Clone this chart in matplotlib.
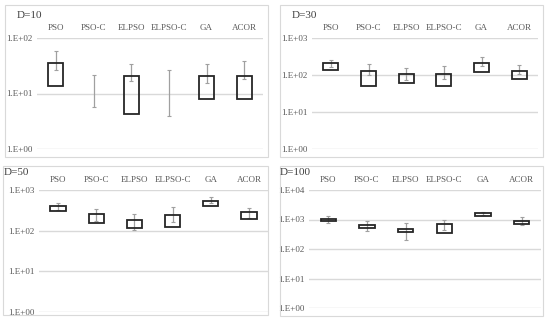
import numpy as np
import matplotlib.pyplot as plt
from matplotlib.patches import Rectangle

plt.rcParams['font.family'] = ['Liberation Serif', 'DejaVu Serif']

algorithms = ["PSO", "PSO-C", "ELPSO", "ELPSO-C", "GA", "ACOR"]
titles = ["D=10", "D=30", "D=50", "D=100"]

# box bottom / top and whisker low / high, per panel
box_low = [
    [13.4, np.nan, 4.2, np.nan, 8.0, 8.0],
    [133, 52, 59, 49, 122, 79],
    [299, 151, 119, 123, 404, 197],
    [895, 506, 380, 352, 1288, 692],
]
box_high = [
    [35.3, np.nan, 20.3, np.nan, 20.3, 20.9],
    [206, 128, 104, 104, 215, 130],
    [396, 252, 179, 238, 547, 282],
    [1074, 673, 468, 728, 1626, 919],
]
whisk_low = [
    [26.4, 5.6, 16.9, 4.0, 15.4, 18.2],
    [167, 100, 73, 77, 178, 108],
    [316, 170, 104, 160, 470, 201],
    [787, 401, 204, 445, 1429, 673],
]
whisk_high = [
    [59, 21.4, 33.9, 26.4, 33.9, 38.4],
    [254, 197, 154, 174, 305, 181],
    [479, 341, 257, 389, 686, 354],
    [1322, 919, 747, 968, 1853, 1191],
]
y_top = [2, 3, 3, 4]
tick_labels = ["1.E+00", "1.E+01", "1.E+02", "1.E+03", "1.E+04"]

W, H = 550, 325
fig = plt.figure(figsize=(5.5, 3.25), dpi=100)

# panel frames (x0, y0, x1, y1 in pixels from top-left)
frames = [(5, 5, 268, 157), (280, 5, 543, 157), (3, 166, 268, 315), (280, 166, 543, 316)]
# plot areas
areas = [(37, 38, 263, 149), (312, 38, 538, 149), (39, 190, 268, 312), (309, 190, 541, 308)]
title_pos = [(17, 16), (292, 16), (4, 172), (280, 172)]

grid_col = "#d9d9d9"
for i in range(4):
    fx0, fy0, fx1, fy1 = frames[i]
    fig.patches.append(Rectangle((fx0 / W, 1 - fy1 / H), (fx1 - fx0) / W, (fy1 - fy0) / H,
                                 transform=fig.transFigure, fill=False,
                                 edgecolor=grid_col, linewidth=0.8))
    ax0, ay0, ax1, ay1 = areas[i]
    ax = fig.add_axes([ax0 / W, 1 - ay1 / H, (ax1 - ax0) / W, (ay1 - ay0) / H])
    x = np.arange(len(algorithms)) + 0.5

    lo = np.array(box_low[i], dtype=float)
    hi = np.array(box_high[i], dtype=float)
    wl = np.array(whisk_low[i], dtype=float)
    wh = np.array(whisk_high[i], dtype=float)

    for y in range(0, y_top[i] + 1):
        ax.axhline(10.0 ** y, color=grid_col, linewidth=1.0, zorder=0)

    ax.errorbar(x, wl, yerr=[np.zeros_like(wl), wh - wl], fmt="none",
                ecolor="#a0a0a0", elinewidth=0.9, capsize=1.5, capthick=0.8, zorder=2)
    mask = ~np.isnan(lo)
    ax.bar(x[mask], hi[mask] - lo[mask], bottom=lo[mask], width=0.4,
           fill=False, edgecolor="#262626", linewidth=1.3, zorder=3)

    ax.set_yscale("log")
    ax.set_ylim(1, 10.0 ** y_top[i])
    ax.set_xlim(0, len(algorithms))
    ax.set_yticks([10.0 ** y for y in range(y_top[i] + 1)])
    ax.set_yticklabels(tick_labels[:y_top[i] + 1])
    ax.minorticks_off()
    ax.set_xticks(x)
    ax.set_xticklabels(algorithms)
    ax.xaxis.tick_top()
    ax.tick_params(axis="both", length=0, labelsize=6.5, colors="#595959")
    ax.tick_params(axis="x", pad=4)
    for s in ax.spines.values():
        s.set_visible(False)
    ax.patch.set_alpha(0)

    tx, ty = title_pos[i]
    fig.text(tx / W, 1 - ty / H, titles[i], fontsize=8, color="#404040", va="center", ha="left")

fig.savefig("out.png", dpi=100)
